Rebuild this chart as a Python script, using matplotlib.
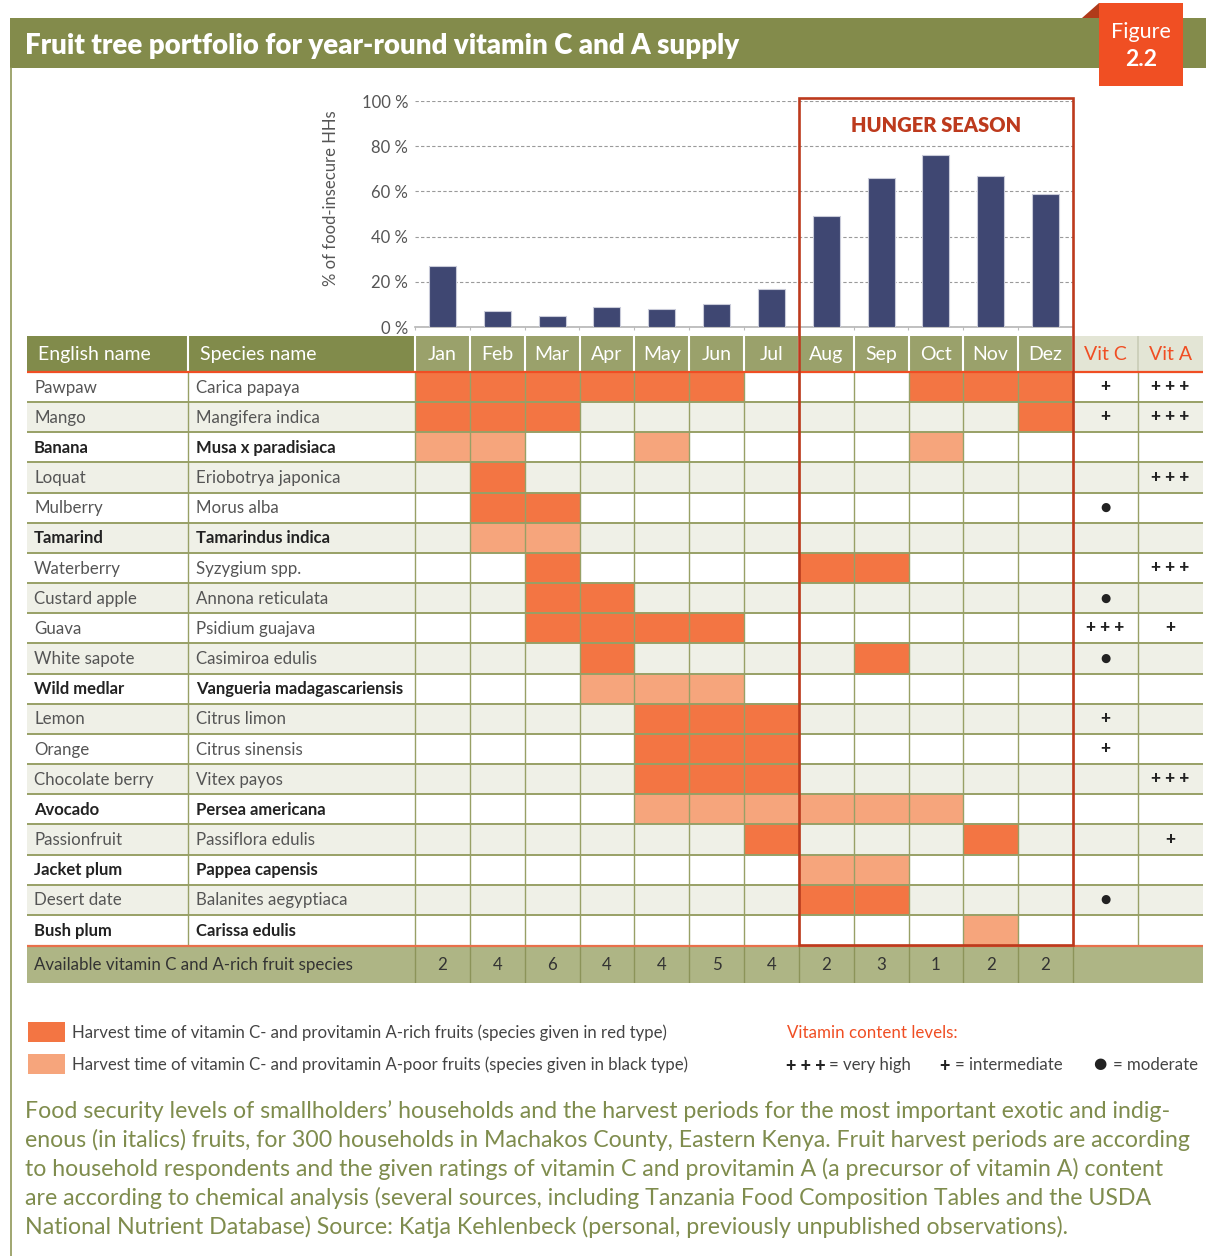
import matplotlib
matplotlib.use("Agg")
import matplotlib.pyplot as plt
from matplotlib.patches import Rectangle, Polygon

plt.rcParams["font.family"] = ["Lato", "DejaVu Sans"]

# ---- data ----
months = ["Jan", "Feb", "Mar", "Apr", "May", "Jun", "Jul", "Aug", "Sep", "Oct", "Nov", "Dez"]
food_insecure_pct = [27, 7, 5, 9, 8, 10, 17, 49, 66, 76, 67, 59]
hunger_season = [7, 11]  # first and last month index

english_names = ["Pawpaw", "Mango", "Banana", "Loquat", "Mulberry", "Tamarind", "Waterberry",
                 "Custard apple", "Guava", "White sapote", "Wild medlar", "Lemon", "Orange",
                 "Chocolate berry", "Avocado", "Passionfruit", "Jacket plum", "Desert date", "Bush plum"]
species_names = ["Carica papaya", "Mangifera indica", "Musa x paradisiaca", "Eriobotrya japonica",
                 "Morus alba", "Tamarindus indica", "Syzygium spp.", "Annona reticulata",
                 "Psidium guajava", "Casimiroa edulis", "Vangueria madagascariensis", "Citrus limon",
                 "Citrus sinensis", "Vitex payos", "Persea americana", "Passiflora edulis",
                 "Pappea capensis", "Balanites aegyptiaca", "Carissa edulis"]
vitamin_rich = [True, True, False, True, True, False, True, True, True, True, False, True, True,
                True, False, True, False, True, False]
harvest_months = [
    [0, 1, 2, 3, 4, 5, 9, 10, 11],  # Pawpaw
    [0, 1, 2, 11],                  # Mango
    [0, 1, 4, 9],                   # Banana
    [1],                            # Loquat
    [1, 2],                         # Mulberry
    [1, 2],                         # Tamarind
    [2, 7, 8],                      # Waterberry
    [2, 3],                         # Custard apple
    [2, 3, 4, 5],                   # Guava
    [3, 8],                         # White sapote
    [3, 4, 5],                      # Wild medlar
    [4, 5, 6],                      # Lemon
    [4, 5, 6],                      # Orange
    [4, 5, 6],                      # Chocolate berry
    [4, 5, 6, 7, 8, 9],             # Avocado
    [6, 10],                        # Passionfruit
    [7, 8],                         # Jacket plum
    [7, 8],                         # Desert date
    [10],                           # Bush plum
]
vit_c = ["+", "+", "", "", "●", "", "", "●", "+++", "●", "", "+", "+", "", "", "", "", "●", ""]
vit_a = ["+++", "+++", "", "+++", "", "", "+++", "", "+", "", "", "", "", "+++", "", "+", "", "", ""]
available_species = [2, 4, 6, 4, 4, 5, 4, 2, 3, 1, 2, 2]

caption_lines = [
    "Food security levels of smallholders\u2019 households and the harvest periods for the most important exotic and indig-",
    "enous (in italics) fruits, for 300 households in Machakos County, Eastern Kenya. Fruit harvest periods are according",
    "to household respondents and the given ratings of vitamin C and provitamin A (a precursor of vitamin A) content",
    "are according to chemical analysis (several sources, including Tanzania Food Composition Tables and the USDA",
    "National Nutrient Database) Source: Katja Kehlenbeck (personal, previously unpublished observations).",
]

# ---- colours ----
OLIVE_DARK = "#818b4b"
OLIVE_MID = "#9aa16b"
OLIVE_SUM = "#aeb585"
VIT_HDR = "#e3e5d5"
ROW_ALT = "#eff0e7"
GRID = "#98a066"
RICH = "#f37543"
POOR = "#f6a57c"
NAVY = "#3f4772"
RED_BOX = "#bd3a1d"
ORANGE = "#f04e23"
CAPTION = "#7f8c4d"
GREY_TXT = "#555555"
DARK_TXT = "#222222"

# ---- layout (pixels) ----
W, H = 1206, 1256
X_TAB0, X_SPEC, X_M0, X_M12, X_VITA, X_TAB1 = 27, 188, 415, 1073, 1138, 1203
Y_HDR, Y_ROW0, Y_ROWN, Y_SUM0, Y_SUM1 = 336, 372, 945, 946, 983
Y_P100, Y_P0 = 101, 327
MW = (X_M12 - X_M0) / 12
RH = (Y_ROWN - Y_ROW0) / len(english_names)


def frac(x0, y0, x1, y1):
    return [x0 / W, 1 - y1 / H, (x1 - x0) / W, (y1 - y0) / H]


def mx(px):
    return (px - X_M0) / MW


def ry(py):
    return (py - Y_ROW0) / RH


def level_text(sym):
    # "+++" is typeset as spaced plus signs in the original
    return " ".join(sym)


fig = plt.figure(figsize=(W / 100, H / 100), dpi=100)
renderer = fig.canvas.get_renderer()

canvas = fig.add_axes([0, 0, 1, 1])
canvas.set_xlim(0, W)
canvas.set_ylim(H, 0)
canvas.axis("off")


def fit_width(text, width):
    w = text.get_window_extent(renderer).width
    text.set_fontsize(text.get_fontsize() * width / w)
    return text.get_fontsize()


# title banner and left rule
canvas.add_patch(Rectangle((10, 18), W - 10, 50, color="#838b4b", lw=0))
canvas.plot([10.5, 10.5], [68, H], color="#8f9757", lw=1.2)
title = canvas.text(25, 46, "Fruit tree portfolio for year-round vitamin C and A supply",
                    color="white", fontweight="heavy", fontsize=17, va="center", ha="left")
fit_width(title, 713)

# ---- bar chart ----
ax_bar = fig.add_axes(frac(X_M0, Y_P100, X_M12, Y_P0))
ax_bar.patch.set_visible(False)
ax_bar.set_xlim(-0.5, 11.5)
ax_bar.set_ylim(0, 100)
ax_bar.bar(range(len(months)), food_insecure_pct, width=0.49, color=NAVY,
           edgecolor="#c9cbd9", linewidth=0.8, zorder=3)
ax_bar.set_yticks(range(0, 101, 20))
ax_bar.set_yticklabels([f"{v} %" for v in range(0, 101, 20)])
ax_bar.tick_params(axis="y", length=0, pad=5, labelsize=12, labelcolor=GREY_TXT)
ax_bar.set_xticks([i - 0.5 for i in range(len(months) + 1)])
ax_bar.tick_params(axis="x", length=2.5, color="#bbbbbb", labelbottom=False)
ax_bar.yaxis.grid(True, linestyle=(0, (3, 2)), color="#9a9a9a", lw=0.8, zorder=1)
for side in ["left", "top", "right"]:
    ax_bar.spines[side].set_visible(False)
ax_bar.spines["bottom"].set_color("#b5b5b5")
ax_bar.spines["bottom"].set_linewidth(1.2)
for lab in ax_bar.get_yticklabels():
    lab.set_fontfamily(["Lato", "DejaVu Sans"])
canvas.text(331, 198, "% of food-insecure HHs", rotation=90, ha="center", va="center",
            fontsize=12, color=GREY_TXT)

# ---- table ----
n_rows = len(english_names)
ax_tab = fig.add_axes(frac(X_TAB0, Y_HDR, X_TAB1, Y_SUM1))
ax_tab.set_xlim(mx(X_TAB0), mx(X_TAB1))
ax_tab.set_ylim(ry(Y_SUM1), ry(Y_HDR))
ax_tab.axis("off")

left, right = mx(X_TAB0), mx(X_TAB1)
hdr_top = ry(Y_HDR)
xc_vitc = 12 + (mx(X_VITA) - 12) / 2
xc_vita = (mx(X_VITA) + right) / 2
ax_tab.add_patch(Rectangle((left, hdr_top), 0 - left, -hdr_top, color=OLIVE_DARK, lw=0))
ax_tab.add_patch(Rectangle((0, hdr_top), 12, -hdr_top, color=OLIVE_MID, lw=0))
ax_tab.add_patch(Rectangle((12, hdr_top), right - 12, -hdr_top, color=VIT_HDR, lw=0))
ax_tab.vlines([mx(X_SPEC)] + list(range(13)), hdr_top, 0, color="white", lw=1.5, zorder=2)
ax_tab.vlines([mx(X_VITA)], hdr_top, 0, color="#c9ccb6", lw=1.2, zorder=2)

hy = hdr_top / 2
ax_tab.text(mx(38), hy, "English name", color="white", fontsize=14, ha="left", va="center")
ax_tab.text(mx(200), hy, "Species name", color="white", fontsize=14, ha="left", va="center")
for m, name in enumerate(months):
    ax_tab.text(m + 0.5, hy, name, color="white", fontsize=14, ha="center", va="center")
ax_tab.text(xc_vitc, hy, "Vit C", color=ORANGE, fontsize=14, ha="center", va="center")
ax_tab.text(xc_vita, hy, "Vit A", color=ORANGE, fontsize=14, ha="center", va="center")

# rows
for i in range(n_rows):
    if i % 2 == 1:
        ax_tab.add_patch(Rectangle((left, i), right - left, 1, color=ROW_ALT, lw=0, zorder=0))
    col = RICH if vitamin_rich[i] else POOR
    for m in harvest_months[i]:
        ax_tab.add_patch(Rectangle((m, i), 1, 1, color=col, lw=0, zorder=1))
    weight = "normal" if vitamin_rich[i] else "bold"
    tcol = GREY_TXT if vitamin_rich[i] else DARK_TXT
    size = 12.2 if vitamin_rich[i] else 12.0
    ax_tab.text(mx(34), i + 0.52, english_names[i], fontsize=size, color=tcol, fontweight=weight,
                ha="left", va="center", zorder=4)
    ax_tab.text(mx(196), i + 0.52, species_names[i], fontsize=size, color=tcol, fontweight=weight,
                ha="left", va="center", zorder=4)
    for sym, xc in [(vit_c[i], xc_vitc), (vit_a[i], xc_vita)]:
        if sym == "●":
            ax_tab.text(xc, i + 0.5, sym, fontsize=8.5, color=DARK_TXT, ha="center", va="center",
                        family="DejaVu Sans", zorder=4)
        elif sym:
            ax_tab.text(xc, i + 0.47, level_text(sym), fontsize=12.5, fontweight="black", color=DARK_TXT,
                        ha="center", va="center", zorder=4)

ax_tab.hlines(range(1, n_rows), left, right, color=GRID, lw=1.4, zorder=2)
ax_tab.vlines([mx(X_SPEC)] + list(range(13)) + [mx(X_VITA)], 0, n_rows, color=GRID, lw=1.0, zorder=2)
ax_tab.hlines([0], left, right, color=ORANGE, lw=1.6, zorder=3)

# summary row
sum_top, sum_bot = ry(Y_SUM0), ry(Y_SUM1)
ax_tab.add_patch(Rectangle((left, sum_top), right - left, sum_bot - sum_top, color=OLIVE_SUM, lw=0, zorder=1))
ax_tab.hlines([sum_top], left, right, color="#e8704b", lw=1.6, zorder=3)
ax_tab.vlines(list(range(13)), sum_top, sum_bot, color="#8c9459", lw=1.0, zorder=2)
sy = (sum_top + sum_bot) / 2
ax_tab.text(mx(34), sy, "Available vitamin C and A-rich fruit species", fontsize=12.2, color="#333333",
            ha="left", va="center", zorder=4)
for m, n in enumerate(available_species):
    ax_tab.text(m + 0.5, sy, str(n), fontsize=12.2, color="#333333", ha="center", va="center", zorder=4)

# ---- overlay: hunger season box and figure badge ----
ov = fig.add_axes([0, 0, 1, 1], zorder=5)
ov.set_xlim(0, W)
ov.set_ylim(H, 0)
ov.axis("off")
ov.patch.set_visible(False)
hx0 = X_M0 + hunger_season[0] * MW
hx1 = X_M0 + (hunger_season[1] + 1) * MW
ov.add_patch(Rectangle((hx0, 98), hx1 - hx0, Y_ROWN - 98, fill=False, edgecolor=RED_BOX, lw=1.9))
hs = ov.text((hx0 + hx1) / 2, 125, "HUNGER SEASON", color=RED_BOX, fontweight="heavy", fontsize=13.5,
             ha="center", va="center")
fit_width(hs, 171)

ov.add_patch(Polygon([(1082, 18), (1099, 3), (1099, 18)], closed=True, color="#b03a1a", lw=0))
ov.add_patch(Rectangle((1099, 3), 84, 83, color="#f04f23", lw=0))
ov.text(1141, 32, "Figure", color="white", fontsize=15.5, ha="center", va="center")
ov.text(1141, 60, "2.2", color="white", fontsize=16.5, fontweight="bold", ha="center", va="center")

# ---- legend ----
canvas.add_patch(Rectangle((28, 1022), 37, 20, color=RICH, lw=0))
canvas.add_patch(Rectangle((28, 1054), 37, 20, color=POOR, lw=0))
leg1 = canvas.text(72, 1033, "Harvest time of vitamin C- and provitamin A-rich fruits (species given in red type)",
                   fontsize=12.5, color="#444444", ha="left", va="center")
lsize = fit_width(leg1, 598)
canvas.text(72, 1065, "Harvest time of vitamin C- and provitamin A-poor fruits (species given in black type)",
            fontsize=lsize, color="#444444", ha="left", va="center")
vlev = canvas.text(787, 1033, "Vitamin content levels:", fontsize=12.5, color=ORANGE, ha="left", va="center")
fit_width(vlev, 170)
canvas.text(786, 1066, level_text("+++"), fontsize=13, fontweight="black", color=DARK_TXT,
            ha="left", va="center")
canvas.text(829, 1065, "= very high", fontsize=lsize, color="#444444", ha="left", va="center")
canvas.text(939, 1066, "+", fontsize=13, fontweight="black", color=DARK_TXT, ha="left", va="center")
canvas.text(955, 1065, "= intermediate", fontsize=lsize, color="#444444", ha="left", va="center")
canvas.text(1093, 1064, "●", fontsize=11, color=DARK_TXT, ha="left", va="center", family="DejaVu Sans")
canvas.text(1113, 1065, "= moderate", fontsize=lsize, color="#444444", ha="left", va="center")

# ---- caption ----
CAP_X0, CAP_X1 = 25, 1193
probe = canvas.text(0, 0, caption_lines[1], fontsize=15)
cap_size = 15 * (CAP_X1 - CAP_X0) / probe.get_window_extent(renderer).width
probe.remove()
for k, line in enumerate(caption_lines):
    canvas.text(CAP_X0, 1111 + k * 29, line, fontsize=cap_size, color=CAPTION, ha="left", va="center")

fig.savefig("out.png", dpi=100)
